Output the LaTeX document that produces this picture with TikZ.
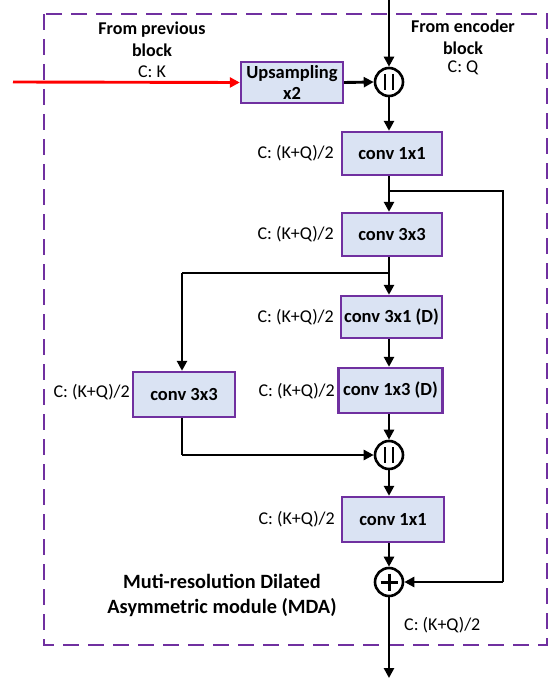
\documentclass[tikz,border=0pt]{standalone}
\usepackage{fontspec}
\setmainfont{Carlito}
\usetikzlibrary{arrows.meta,positioning,calc}
\definecolor{boxfill}{HTML}{DAE3F3}
\definecolor{boxline}{HTML}{7030A0}
\definecolor{dashline}{HTML}{7030A0}
\begin{document}
\begin{tikzpicture}[x=1pt,y=-1pt,
  blk/.style={draw=boxline,fill=boxfill,line width=2.4pt,minimum height=43pt,inner sep=0pt,align=center,font=\fontsize{18.5}{21}\selectfont\bfseries},
  lbl/.style={font=\fontsize{18}{21}\selectfont,inner sep=0pt},
  ttl/.style={font=\fontsize{18}{22}\selectfont\bfseries,align=center,inner sep=0pt},
  bigttl/.style={font=\fontsize{20.3}{25}\selectfont\bfseries,align=center,inner sep=0pt},
  arr/.style={line width=2.9pt,-{Triangle[length=10pt,width=10pt]}},
  ln/.style={line width=2.9pt},
  opc/.style={circle,draw,line width=2.6pt,minimum size=28pt,inner sep=0pt},
  bar/.style={line width=1.8pt},
]
\useasboundingbox (0,0) rectangle (553,679);
% dashed module frame
\draw[dashline,line width=2.8pt,dash pattern=on 16pt off 9pt] (44,14) rectangle (547,645);

% blocks
\node[blk,minimum width=102pt,minimum height=41pt] (up) at (292,82.5) {Upsampling\\x2};
\node[opc] (cat1) at (389,82) {};
\draw[bar] ($(cat1)+(-4,-8)$) -- ($(cat1)+(-4,8)$);
\draw[bar] ($(cat1)+(4,-8)$) -- ($(cat1)+(4,8)$);
\node[blk,minimum width=100pt] (c1) at (392,153.5) {conv 1x1};
\node[blk,minimum width=100pt] (c2) at (392,234.5) {conv 3x3};
\node[blk,minimum width=101pt,minimum height=42pt] (c3) at (391.5,317) {conv 3x1 (D)};
\node[blk,minimum width=104pt,minimum height=45pt] (c4) at (390.5,390.5) {conv 1x3 (D)};
\node[blk,minimum width=102pt,minimum height=45pt] (cl) at (184,394.5) {conv 3x3};
\node[opc] (cat2) at (389,455) {};
\draw[bar] ($(cat2)+(-4,-8)$) -- ($(cat2)+(-4,8)$);
\draw[bar] ($(cat2)+(4,-8)$) -- ($(cat2)+(4,8)$);
\node[blk,minimum width=102pt,minimum height=45pt] (c5) at (393,519.5) {conv 1x1};
\node[opc] (plus) at (389,582) {};
\draw[line width=3pt] ($(plus)+(-8.5,0)$) -- ($(plus)+(8.5,0)$);
\draw[line width=3pt] ($(plus)+(0,-8.5)$) -- ($(plus)+(0,8.5)$);

% coordinates
\coordinate (top) at (389,0);
\coordinate (redstart) at (13,82);
\coordinate (bot) at (389,678);
\coordinate (b1) at (389,191);
\coordinate (r1) at (503,191);
\coordinate (r2) at (503,582);
\coordinate (b2) at (389,273);
\coordinate (l1) at (182,273);
\coordinate (l2) at (182,455);

% connectors
\draw[arr] (top) -- (cat1.north);
\draw[arr,red] (redstart) -- (up.west);
\draw[arr] (up.east) -- (cat1.west);
\draw[arr] (cat1.south) -- (c1.north -| cat1);
\draw[arr] (c1.south -| cat1) -- (c2.north -| cat1);
\draw[ln,line join=miter] (b1) -- (r1) -- (r2);
\draw[arr] (r2) -- (plus.east);
\draw[arr] (c2.south -| cat1) -- (c3.north -| cat1);
\draw[ln] (b2) -- (l1);
\draw[arr] (l1) -- (cl.north -| l1);
\draw[arr] (c3.south -| cat1) -- (c4.north -| cat1);
\draw[arr] (c4.south -| cat1) -- (cat2.north);
\draw[ln] (cl.south -| l1) -- (l2);
\draw[arr] (l2) -- (cat2.west);
\draw[arr] (cat2.south) -- (c5.north -| cat2);
\draw[arr] (c5.south -| cat2) -- (plus.north);
\draw[arr] (plus.south) -- (bot);

% labels
\node[ttl] (fp) at (152,39) {From previous\\block};
\node[lbl] (ck) at (152,72) {C: K};
\node[ttl] (fe) at (463,37) {From encoder\\block};
\node[lbl] (cq) at (463,68) {C: Q};
\node[lbl,anchor=east] (l1t) at (334,153) {C: (K+Q)/2};
\node[lbl,anchor=east] (l2t) at (334,234) {C: (K+Q)/2};
\node[lbl,anchor=east] (l3t) at (334,317) {C: (K+Q)/2};
\node[lbl,anchor=east] (l4t) at (335,391) {C: (K+Q)/2};
\node[lbl,anchor=east] (llt) at (130,392) {C: (K+Q)/2};
\node[lbl,anchor=east] (l5t) at (335,519) {C: (K+Q)/2};
\node[lbl,anchor=west] (lbt) at (404,625) {C: (K+Q)/2};
\node[bigttl] (title) at (222,595) {Muti-resolution Dilated\\Asymmetric module (MDA)};
\end{tikzpicture}
\end{document}
